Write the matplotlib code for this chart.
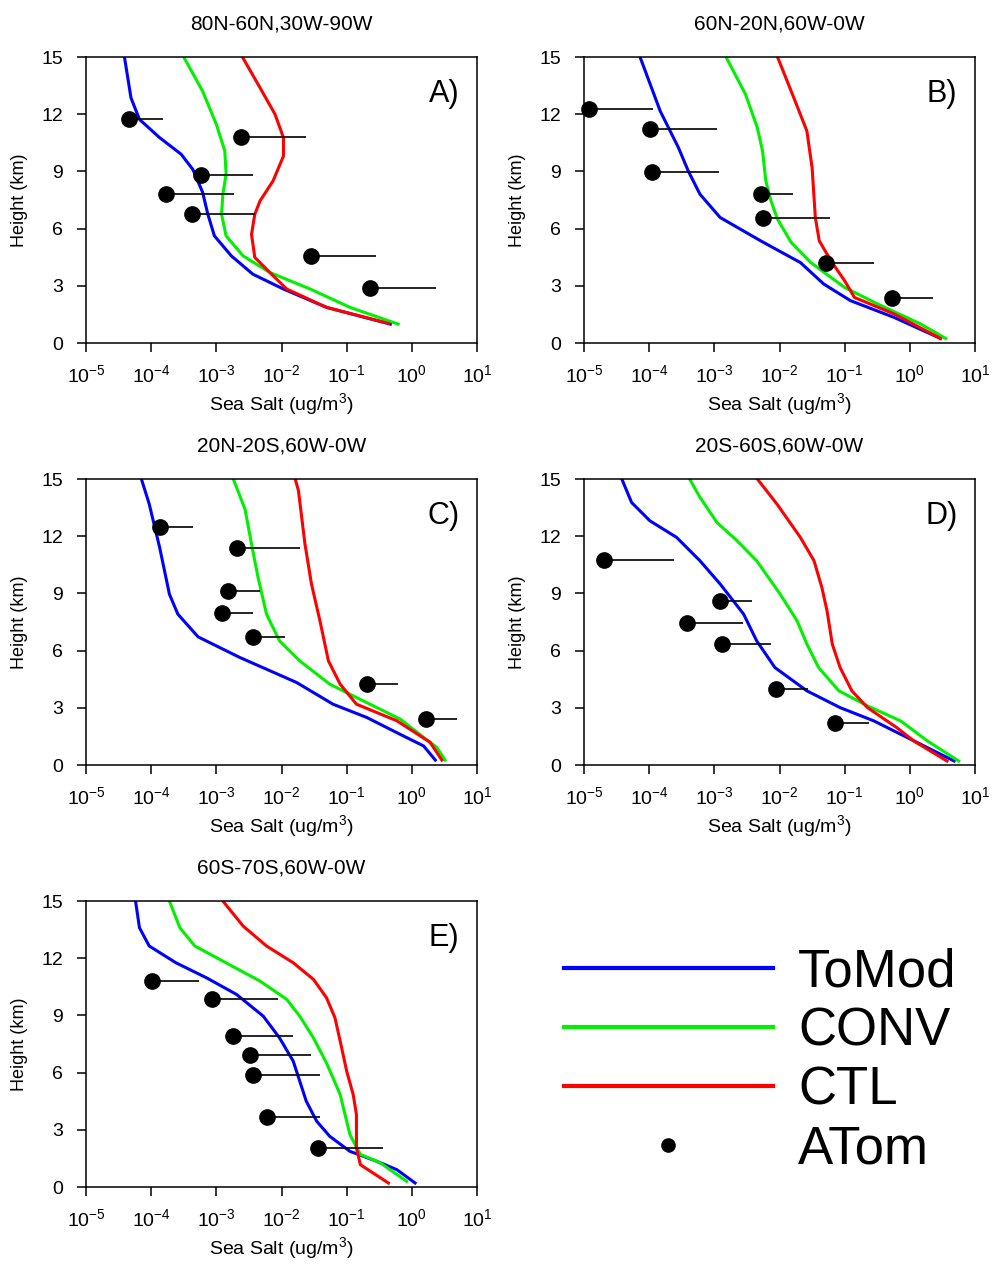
import numpy as np
import matplotlib
matplotlib.use("Agg")
import matplotlib.pyplot as plt
from matplotlib.lines import Line2D

plt.rcParams["font.family"] = ["Liberation Sans", "DejaVu Sans"]
plt.rcParams["mathtext.fontset"] = "custom"
plt.rcParams["mathtext.rm"] = "Liberation Sans"

# 数据: 高度 (km) 与 log10(海盐浓度, ug/m3)
titles = ["80N-60N,30W-90W", "60N-20N,60W-0W", "20N-20S,60W-0W",
          "20S-60S,60W-0W", "60S-70S,60W-0W"]
labels = ["A)", "B)", "C)", "D)", "E)"]

# A
a_tomod_z = [15, 12.86, 11.73, 10.77, 9.9, 9.1, 7.9, 6.75, 5.62, 4.57, 3.61, 2.83, 1.87, 0.99]
a_tomod_x = [-4.41, -4.31, -4.18, -3.87, -3.54, -3.36, -3.21, -3.13, -3.03, -2.77, -2.44, -1.97, -1.31, -0.33]
a_conv_z = [15, 13.2, 11.47, 10.07, 8.85, 7.8, 6.75, 5.62, 4.57, 3.7, 2.83, 1.87, 0.99]
a_conv_x = [-3.5, -3.21, -3.0, -2.87, -2.85, -2.9, -2.92, -2.85, -2.59, -2.18, -1.56, -0.95, -0.21]
a_ctl_z = [15, 13.39, 12.0, 10.77, 9.8, 8.5, 7.45, 6.75, 5.7, 4.49, 3.7, 2.83, 1.87, 1.03]
a_ctl_x = [-2.6, -2.33, -2.1, -1.97, -1.97, -2.13, -2.33, -2.41, -2.46, -2.41, -2.18, -1.92, -1.31, -0.36]
a_atom_z = [11.76, 10.79, 8.81, 7.8, 6.75, 4.57, 2.91]
a_atom_x = [-4.34, -2.62, -3.23, -3.78, -3.38, -1.55, -0.64]
a_atom_hi = [-3.82, -1.63, -2.43, -2.73, -2.41, -0.55, 0.37]

# B
b_tomod_z = [15, 12.16, 10.24, 9.02, 7.8, 6.58, 5.36, 4.22, 3.09, 2.22, 1.34, 0.24]
b_tomod_x = [-4.14, -3.83, -3.55, -3.4, -3.22, -2.91, -2.29, -1.68, -1.32, -0.91, -0.24, 0.47]
b_conv_z = [15, 13.03, 11.29, 10.07, 8.5, 7.45, 6.49, 5.27, 4.22, 2.91, 2.04, 0.99, 0.24]
b_conv_x = [-2.82, -2.52, -2.34, -2.26, -2.21, -2.13, -2.03, -1.82, -1.52, -1.0, -0.49, 0.17, 0.55]
b_ctl_z = [15, 12.86, 11.12, 9.2, 7.63, 6.58, 5.36, 4.31, 3.26, 2.39, 1.52, 0.24]
b_ctl_x = [-2.03, -1.78, -1.58, -1.5, -1.47, -1.45, -1.39, -1.21, -1.0, -0.85, -0.24, 0.47]
b_atom_z = [12.25, 11.2, 8.97, 7.8, 6.58, 4.17, 2.34]
b_atom_x = [-4.92, -3.99, -3.96, -2.29, -2.25, -1.28, -0.28]
b_atom_hi = [-3.94, -2.96, -2.93, -1.79, -1.23, -0.55, 0.35]

# C
c_tomod_z = [15, 13.69, 11.41, 8.96, 7.91, 6.72, 5.64, 4.33, 3.19, 2.49, 1.61, 1.0, 0.26]
c_tomod_x = [-4.15, -4.03, -3.87, -3.72, -3.59, -3.28, -2.64, -1.77, -1.21, -0.69, -0.18, 0.18, 0.36]
c_conv_z = [15, 13.42, 11.59, 9.84, 7.91, 6.51, 5.46, 4.24, 3.54, 2.41, 1.45, 0.93, 0.26]
c_conv_x = [-2.74, -2.56, -2.46, -2.36, -2.23, -2.03, -1.72, -1.26, -0.85, -0.18, 0.18, 0.38, 0.51]
c_ctl_z = [15, 14.39, 11.59, 9.49, 7.56, 5.46, 4.24, 3.19, 2.32, 1.19, 0.26]
c_ctl_x = [-1.79, -1.74, -1.64, -1.54, -1.41, -1.28, -1.1, -0.85, -0.23, 0.28, 0.46]
c_atom_z = [12.46, 11.38, 9.14, 7.95, 6.72, 4.24, 2.41]
c_atom_x = [-3.86, -2.69, -2.82, -2.92, -2.44, -0.69, 0.22]
c_atom_hi = [-3.36, -1.72, -2.33, -2.44, -1.94, -0.21, 0.7]

# D
d_tomod_z = [15, 13.77, 12.81, 11.94, 10.71, 9.49, 7.91, 6.51, 5.11, 3.89, 3.01, 2.31, 1.61, 0.91, 0.21]
d_tomod_x = [-4.42, -4.27, -3.99, -3.58, -3.22, -2.91, -2.55, -2.35, -2.07, -1.58, -1.07, -0.55, -0.14, 0.27, 0.68]
d_conv_z = [15, 14.04, 12.72, 11.76, 10.71, 8.96, 7.56, 6.34, 5.11, 3.89, 3.1, 2.31, 1.26, 0.21]
d_conv_x = [-3.38, -3.22, -2.96, -2.65, -2.35, -1.99, -1.73, -1.58, -1.4, -1.09, -0.65, -0.14, 0.27, 0.75]
d_ctl_z = [15, 13.69, 11.94, 10.71, 9.31, 8.08, 6.34, 5.11, 3.89, 3.01, 1.96, 1.26, 0.21]
d_ctl_x = [-2.34, -2.04, -1.68, -1.47, -1.35, -1.27, -1.19, -1.07, -0.89, -0.65, -0.2, 0.06, 0.57]
d_atom_z = [10.76, 8.61, 7.47, 6.34, 3.97, 2.19]
d_atom_x = [-4.7, -2.91, -3.42, -2.88, -2.05, -1.15]
d_atom_hi = [-3.62, -2.42, -2.56, -2.13, -1.57, -0.62]

# E
e_tomod_z = [15, 13.6, 12.64, 11.76, 10.97, 10.1, 8.96, 7.82, 6.6, 5.55, 4.5, 3.45, 2.66, 1.87, 1.35, 0.91, 0.21]
e_tomod_x = [-4.24, -4.18, -4.03, -3.62, -3.15, -2.69, -2.28, -2.03, -1.82, -1.72, -1.62, -1.46, -1.26, -0.95, -0.54, -0.23, 0.05]
e_conv_z = [15, 13.6, 12.64, 11.94, 10.8, 9.84, 8.96, 7.82, 6.51, 4.85, 2.75, 1.71, 1.28, 0.3]
e_conv_x = [-3.72, -3.56, -3.33, -2.95, -2.33, -1.92, -1.72, -1.51, -1.31, -1.1, -0.95, -0.79, -0.49, -0.08]
e_ctl_z = [15, 13.69, 12.64, 11.76, 10.89, 9.93, 8.88, 7.66, 6.08, 4.85, 3.8, 2.05, 1.17, 0.21]
e_ctl_x = [-2.9, -2.59, -2.23, -1.82, -1.51, -1.31, -1.18, -1.1, -1.0, -0.9, -0.85, -0.85, -0.79, -0.36]
e_atom_z = [10.8, 9.87, 7.91, 6.91, 5.86, 3.68, 2.05]
e_atom_x = [-3.99, -3.07, -2.74, -2.49, -2.43, -2.23, -1.44]
e_atom_hi = [-3.26, -2.05, -1.83, -1.54, -1.41, -1.41, -0.44]

panels = [
    (a_tomod_z, a_tomod_x, a_conv_z, a_conv_x, a_ctl_z, a_ctl_x, a_atom_z, a_atom_x, a_atom_hi),
    (b_tomod_z, b_tomod_x, b_conv_z, b_conv_x, b_ctl_z, b_ctl_x, b_atom_z, b_atom_x, b_atom_hi),
    (c_tomod_z, c_tomod_x, c_conv_z, c_conv_x, c_ctl_z, c_ctl_x, c_atom_z, c_atom_x, c_atom_hi),
    (d_tomod_z, d_tomod_x, d_conv_z, d_conv_x, d_ctl_z, d_ctl_x, d_atom_z, d_atom_x, d_atom_hi),
    (e_tomod_z, e_tomod_x, e_conv_z, e_conv_x, e_ctl_z, e_ctl_x, e_atom_z, e_atom_x, e_atom_hi),
]

BLUE, GREEN, RED = "#0000ff", "#00f000", "#ff0000"

W, H = 994, 1266
fig = plt.figure(figsize=(W / 100, H / 100), dpi=100)

# 子图位置 (像素)
lefts = [86, 584, 86, 584, 86]
bottoms = [343, 343, 765, 765, 1187]
aw, ah = 391, 286

for i, p in enumerate(panels):
    ax = fig.add_axes([lefts[i] / W, 1 - bottoms[i] / H, aw / W, ah / H])
    tz, tx, cz, cx, rz, rx, oz, ox, ohi = p
    ax.plot(10 ** np.array(tx), tz, color=BLUE, lw=2.2)
    ax.plot(10 ** np.array(cx), cz, color=GREEN, lw=2.2)
    ax.plot(10 ** np.array(rx), rz, color=RED, lw=2.2)
    ax.hlines(oz, 10 ** np.array(ox), 10 ** np.array(ohi), color="k", lw=1.2)
    ax.plot(10 ** np.array(ox), oz, "o", color="k", ms=11, ls="none", clip_on=False)
    ax.set_xscale("log")
    ax.set_xlim(1e-5, 1e1)
    ax.set_ylim(0, 15)
    ax.set_xticks([10.0 ** k for k in range(-5, 2)])
    ax.set_xticklabels([r"$10^{%d}$" % k for k in range(-5, 2)])
    ax.xaxis.set_minor_locator(matplotlib.ticker.NullLocator())
    ax.set_yticks(np.arange(0, 16, 3))
    ax.tick_params(axis="x", labelsize=14, length=6.5, width=1.1, direction="out", pad=9)
    ax.tick_params(axis="y", labelsize=14, length=6.5, width=1.1, direction="out", pad=10)
    for s in ax.spines.values():
        s.set_linewidth(1.1)
    ax.set_xlabel("Sea Salt (ug/m$^3$)", fontsize=14, va="center")
    ax.xaxis.set_label_coords(0.5, -(405 - 343) / ah)
    ax.set_ylabel("Height (km)", fontsize=13, va="center")
    ax.yaxis.set_label_coords(-(86 - 20) / aw, 0.5)
    ax.set_title(titles[i], fontsize=15, y=1 + 33 / ah, va="center", pad=0)
    ax.text(0.955, 0.87, labels[i], transform=ax.transAxes, fontsize=22,
            ha="right", va="center")

handles = [
    Line2D([], [], color=BLUE, lw=3),
    Line2D([], [], color=GREEN, lw=3),
    Line2D([], [], color=RED, lw=3),
    Line2D([], [], color="k", marker="o", ms=9.5, ls="none"),
]
fig.legend(handles, ["ToMod", "CONV", "CTL", "ATom"], loc="center left",
           bbox_to_anchor=(516 / W, 1 - 1061 / H), frameon=False, fontsize=38,
           handlelength=3.96, handletextpad=0.49, labelspacing=0.17)

fig.savefig("out.png", dpi=100)
